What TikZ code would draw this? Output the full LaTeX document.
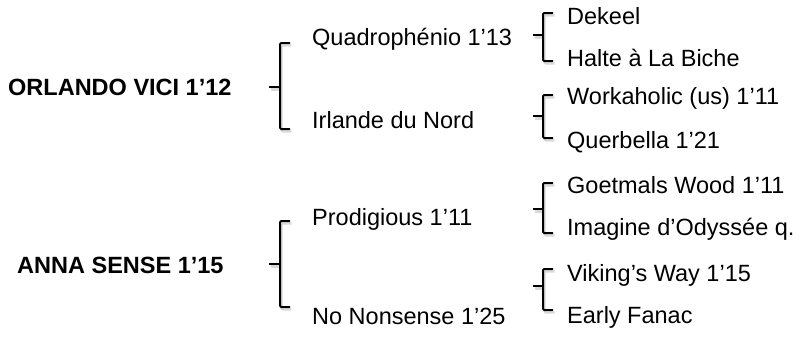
\documentclass[tikz,border=0pt]{standalone}
\usepackage{fontspec}
\setmainfont{Liberation Sans}
\begin{document}
\begin{tikzpicture}[x=1pt,y=-1pt,
  lbl/.style={anchor=base west,inner sep=0pt,font=\fontsize{23.5}{26}\selectfont},
  root/.style={lbl,font=\fontsize{23.5}{26}\selectfont\bfseries},
  brk/.style={line width=2pt,black,line cap=butt,rounded corners=1.2pt},
  brkshadow/.style={line width=2.4pt,black!15,rounded corners=1.2pt}]
\useasboundingbox (0,0) rectangle (801,351);
% text nodes
\node[root] (r1) at (8,95) {ORLANDO VICI 1’12};
\node[root] (r2) at (17,273) {ANNA SENSE 1’15};
\node[lbl] (a1) at (312,45) {Quadrophénio 1’13};
\node[lbl] (a2) at (312,128) {Irlande du Nord};
\node[lbl] (b1) at (312,225) {Prodigious 1’11};
\node[lbl] (b2) at (312,324) {No Nonsense 1’25};
\node[lbl] (c1) at (567,24) {Dekeel};
\node[lbl] (c2) at (567,66) {Halte à La Biche};
\node[lbl] (d1) at (567,104) {Workaholic (us) 1’11};
\node[lbl] (d2) at (567,148) {Querbella 1’21};
\node[lbl] (e1) at (567,193) {Goetmals Wood 1’11};
\node[lbl] (e2) at (567,235) {Imagine d’Odyssée q.};
\node[lbl] (f1) at (567,281) {Viking’s Way 1’15};
\node[lbl] (f2) at (567,323) {Early Fanac};
% brace: tip x, vertical x, hook x, top y, mid y, bottom y
\newcommand{\mybrace}[6]{%
  \draw[brkshadow] ([shift={(1.5,2.5)}]#3,#4) -- ([shift={(1.5,2.5)}]#2,#4) -- ([shift={(1.5,2.5)}]#2,#6) -- ([shift={(1.5,2.5)}]#3,#6);
  \draw[brkshadow] ([shift={(1.5,2.5)}]#1,#5) -- ([shift={(1.5,2.5)}]#2,#5);
  \draw[brk] (#3,#4) -- (#2,#4) -- (#2,#6) -- (#3,#6);
  \draw[brk] (#1,#5) -- (#2,#5);}
\mybrace{269}{280}{290}{43}{87}{129}
\mybrace{269}{280}{290}{221}{264}{307}
\mybrace{533}{543}{553}{13}{35}{61}
\mybrace{533}{543}{553}{95}{116}{138}
\mybrace{533}{543}{553}{183}{209}{233}
\mybrace{533}{543}{553}{269}{286}{310}
\end{tikzpicture}
\end{document}
